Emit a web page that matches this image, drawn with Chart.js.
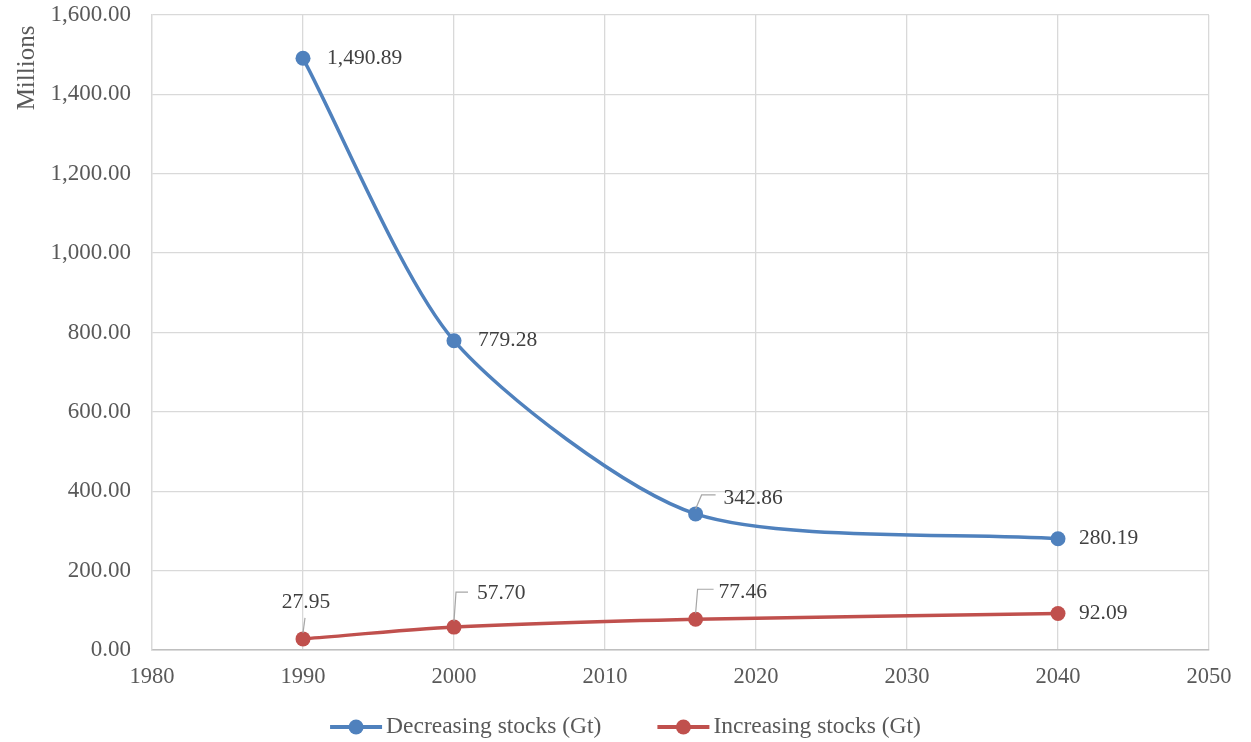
<!DOCTYPE html>
<html>
<head>
<meta charset="utf-8">
<script src="https://cdn.jsdelivr.net/npm/chart.js@4/dist/chart.umd.min.js"></script>
<style>
  html, body { margin: 0; padding: 0; background: #fff; }
  #wrap { width: 1251px; height: 742px; }
</style>
</head>
<body>
<div id="wrap"><canvas id="myChart"></canvas></div>
<script>
// data
var years = [1990, 2000, 2016, 2040];
var decreasing = [1490.89, 779.28, 342.86, 280.19];
var increasing = [27.95, 57.70, 77.46, 92.09];
var seriesNames = ['Decreasing stocks (Gt)', 'Increasing stocks (Gt)'];
var xTicks = [1980, 1990, 2000, 2010, 2020, 2030, 2040, 2050];
var yTicks = [0, 200, 400, 600, 800, 1000, 1200, 1400, 1600];

var blue = '#4f81bd';
var red = '#c0504d';
var serif = '"Liberation Serif", "Times New Roman", serif';

// where each data label sits relative to its point (px), plus leader lines
var labelPos = [
    [{dx: 24, dy: 0}, {dx: 24, dy: 0}, {dx: 28, dy: -16, leader: [[0, -5], [6, -19], [20, -19]]}, {dx: 21, dy: 0}],
    [{dx: 3, dy: -37, center: true, leader: [[0, -6], [2, -21]]}, {dx: 23, dy: -34, leader: [[0, -6], [2, -35], [14, -35]]},
     {dx: 23, dy: -27, leader: [[0, -6], [2, -30], [18, -30]]}, {dx: 21, dy: 0}]
];

function fmt(v) {
    return v.toLocaleString('en-US', {minimumFractionDigits: 2, maximumFractionDigits: 2});
}

function toXY(vals) {
    return years.map(function (y, i) { return {x: y, y: vals[i]}; });
}

var extras = {
    id: 'extras',
    afterDatasetsDraw: function (chart) {
        var ctx = chart.ctx;
        ctx.save();
        ctx.font = '21.5px ' + serif;
        ctx.textBaseline = 'middle';
        chart.data.datasets.forEach(function (ds, di) {
            var meta = chart.getDatasetMeta(di);
            meta.data.forEach(function (pt, i) {
                var p = labelPos[di][i];
                if (p.leader) {
                    ctx.strokeStyle = '#a6a6a6';
                    ctx.lineWidth = 1.2;
                    ctx.beginPath();
                    p.leader.forEach(function (c, k) {
                        if (k === 0) ctx.moveTo(pt.x + c[0], pt.y + c[1]);
                        else ctx.lineTo(pt.x + c[0], pt.y + c[1]);
                    });
                    ctx.stroke();
                }
                ctx.fillStyle = '#404040';
                ctx.textAlign = p.center ? 'center' : 'left';
                ctx.fillText(fmt(ds.data[i].y), pt.x + p.dx, pt.y + p.dy);
            });
        });
        ctx.restore();
    },
    afterDraw: function (chart) {
        var ctx = chart.ctx;
        ctx.save();
        // axis title, top-left like the original
        ctx.font = '25px ' + serif;
        ctx.fillStyle = '#595959';
        ctx.translate(27, 68);
        ctx.rotate(-Math.PI / 2);
        ctx.textAlign = 'center';
        ctx.textBaseline = 'middle';
        ctx.fillText('Millions', 0, 0);
        ctx.restore();

        // legend
        ctx.save();
        ctx.font = '23.5px ' + serif;
        ctx.textBaseline = 'middle';
        var colors = [blue, red];
        var y = 727;
        var widths = seriesNames.map(function (n) { return 56 + ctx.measureText(n).width; });
        var gap = 56;
        var total = widths[0] + widths[1] + gap;
        var x = chart.width / 2 - total / 2;
        seriesNames.forEach(function (n, i) {
            ctx.strokeStyle = colors[i];
            ctx.lineWidth = 4;
            ctx.beginPath();
            ctx.moveTo(x, y);
            ctx.lineTo(x + 52, y);
            ctx.stroke();
            ctx.fillStyle = colors[i];
            ctx.beginPath();
            ctx.arc(x + 26, y, 7.5, 0, Math.PI * 2);
            ctx.fill();
            ctx.fillStyle = '#595959';
            ctx.textAlign = 'left';
            ctx.fillText(n, x + 56, y);
            x += widths[i] + gap;
        });
        ctx.restore();
    }
};

var ctx = document.getElementById('myChart').getContext('2d');
var myChart = new Chart(ctx, {
    type: 'line',
    data: {
        datasets: [{
            label: seriesNames[0],
            data: toXY(decreasing),
            borderColor: blue,
            backgroundColor: blue,
            borderWidth: 3.5,
            pointRadius: 7.5,
            pointBorderWidth: 0,
            tension: 0.25
        }, {
            label: seriesNames[1],
            data: toXY(increasing),
            borderColor: red,
            backgroundColor: red,
            borderWidth: 3.5,
            pointRadius: 7.5,
            pointBorderWidth: 0,
            tension: 0.25
        }]
    },
    options: {
        responsive: true,
        maintainAspectRatio: false,
        animation: false,
        layout: {
            padding: {top: 15, right: 42, left: 0, bottom: 52}
        },
        scales: {
            x: {
                type: 'linear',
                min: 1980,
                max: 2050,
                afterFit: function (scale) {
                    scale.height = 40;
                    scale.paddingLeft = 0;
                    scale.paddingRight = 0;
                },
                afterBuildTicks: function (scale) {
                    scale.ticks = xTicks.map(function (v) { return {value: v}; });
                },
                ticks: {
                    color: '#595959',
                    font: {family: serif, size: 22.5},
                    padding: 14,
                    callback: function (v) { return String(v); }
                },
                grid: {color: '#d9d9d9', lineWidth: 1.3, drawTicks: false},
                border: {color: '#bfbfbf', width: 1.5}
            },
            y: {
                min: 0,
                max: 1600,
                afterFit: function (scale) {
                    scale.width = 152;
                    scale.paddingTop = 0;
                    scale.paddingBottom = 0;
                },
                afterBuildTicks: function (scale) {
                    scale.ticks = yTicks.map(function (v) { return {value: v}; });
                },
                ticks: {
                    color: '#595959',
                    font: {family: serif, size: 23},
                    padding: 21,
                    callback: function (v) { return fmt(v); }
                },
                grid: {color: '#d9d9d9', lineWidth: 1.3, drawTicks: false},
                border: {color: '#d9d9d9', width: 1.3}
            }
        },
        plugins: {
            legend: {display: false},
            tooltip: {enabled: false}
        }
    },
    plugins: [extras]
});
</script>
</body>
</html>
